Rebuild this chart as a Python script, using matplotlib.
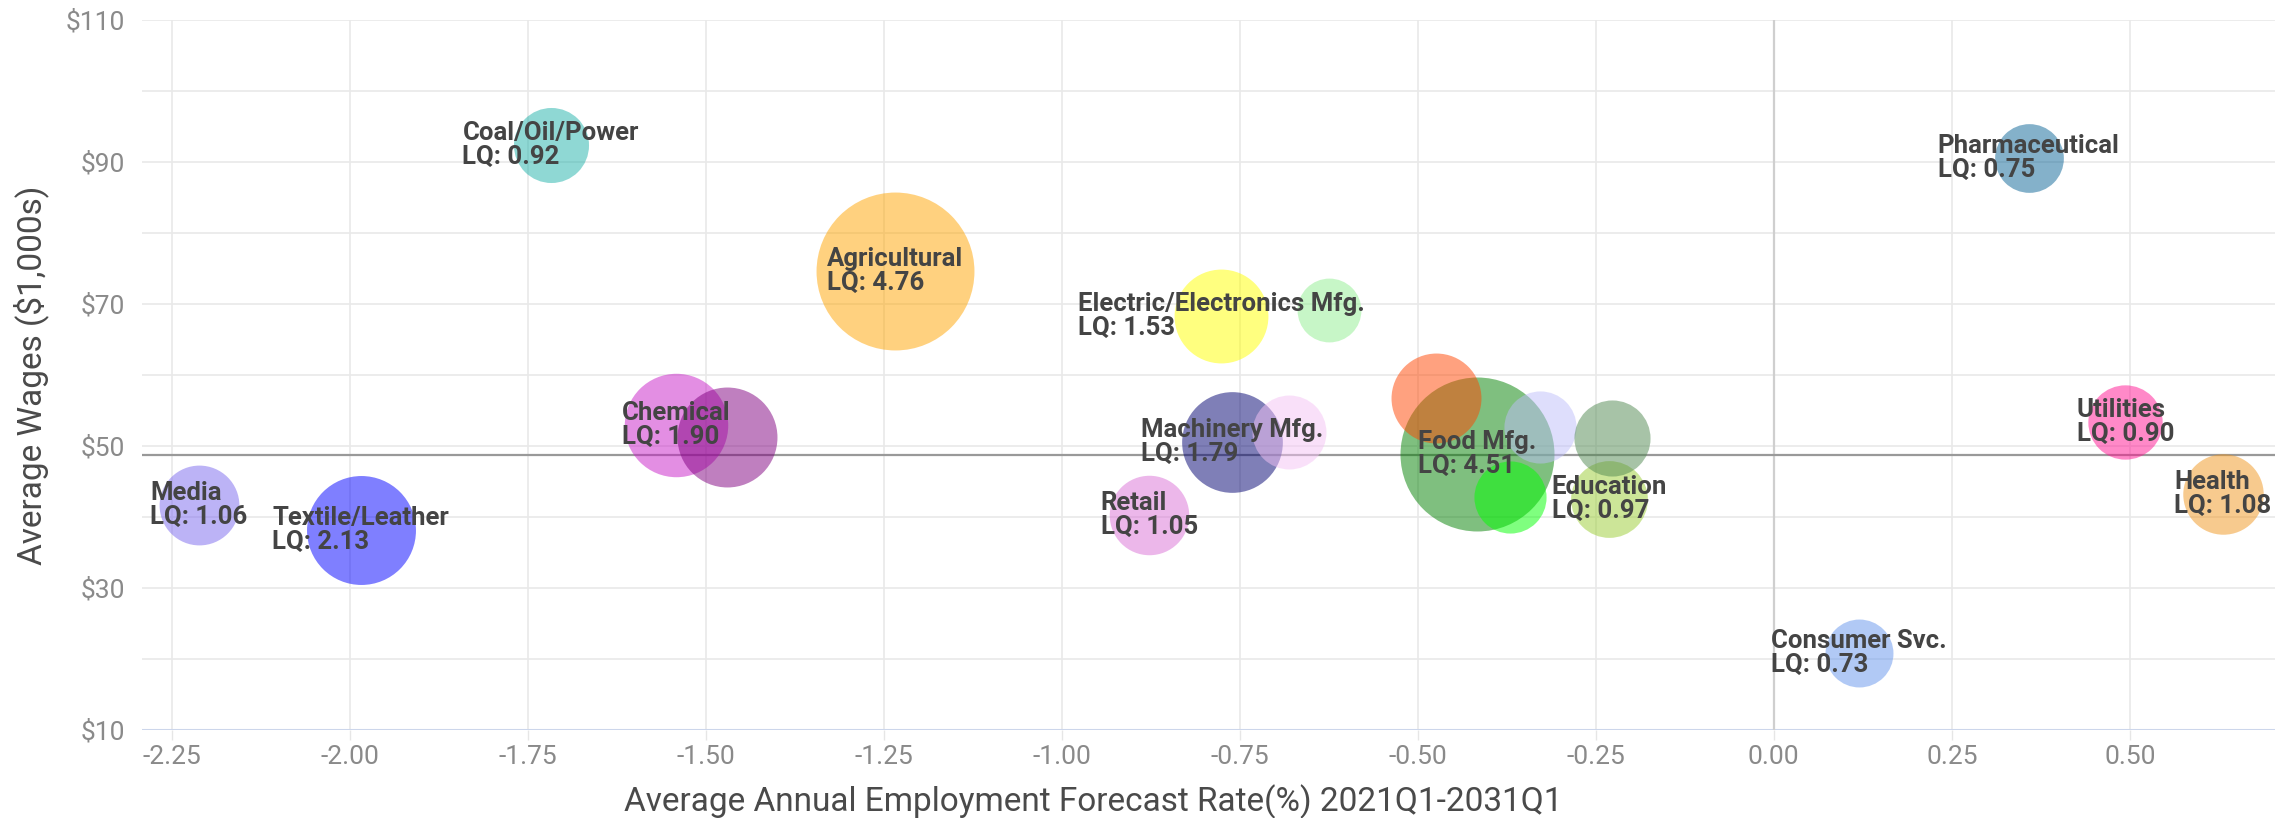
import matplotlib
matplotlib.use("Agg")
import matplotlib.pyplot as plt
import numpy as np
from matplotlib.ticker import MultipleLocator

plt.rcParams['font.family'] = ['Roboto', 'DejaVu Sans']

# ---- data ----
industries = ["Media", "Textile/Leather", "Coal/Oil/Power", "Agricultural", "Chemical",
              "Electric/Electronics Mfg.", "Machinery Mfg.", "Retail", "Food Mfg.",
              "Education", "Pharmaceutical", "Utilities", "Health", "Consumer Svc.",
              "", "", "", "", "", "", ""]
forecast_rate = [-2.212, -1.985, -1.718, -1.234, -1.542,
                 -0.776, -0.761, -0.877, -0.417,
                 -0.231, 0.358, 0.494, 0.631, 0.120,
                 -1.470, -0.625, -0.681, -0.474, -0.328, -0.370, -0.227]
avg_wages = [41.7, 38.2, 92.4, 74.6, 53.0,
             68.3, 50.5, 40.3, 48.9,
             42.6, 90.6, 53.4, 43.2, 20.8,
             51.2, 69.2, 52.0, 56.8, 52.7, 42.8, 51.1]
lq = [1.06, 2.13, 0.92, 4.76, 1.90,
      1.53, 1.79, 1.05, 4.51,
      0.97, 0.75, 0.90, 1.08, 0.73,
      1.76, 0.63, 0.89, 1.39, 0.84, 0.84, 0.95]
colors = ["#7B68EE", "#0000FF", "#20B2AA", "#FFA500", "#C81EC8",
          "#FFFF00", "#000070", "#DA70D6", "#008000",
          "#9ACD32", "#0A6496", "#FF1493", "#F0961E", "#6495ED",
          "#800080", "#90EE90", "#F5C3F5", "#FF4500", "#BEBEFA", "#00FF00", "#518951"]
mean_wage = 48.8

x_ticks = [-2.25, -2.00, -1.75, -1.50, -1.25, -1.00, -0.75, -0.50, -0.25, 0.00, 0.25, 0.50]
y_tick_labels = ["$10", "$30", "$50", "$70", "$90", "$110"]

# ---- figure ----
DPI = 100
fig = plt.figure(figsize=(22.92, 8.18), dpi=DPI)
ax = fig.add_axes([142/2292, 1 - 730/818, (2275-142)/2292, (730-20)/818])

ax.set_xlim(-2.292, 0.704)
ax.set_ylim(10, 110)

for s in ax.spines.values():
    s.set_visible(False)

ax.set_xticks(x_ticks)
ax.set_xticklabels([f"{t:.2f}" for t in x_ticks])
ax.set_yticks(np.arange(10, 111, 20))
ax.set_yticklabels(y_tick_labels)
ax.yaxis.set_minor_locator(MultipleLocator(10))

ax.grid(True, which='both', color='#e9e9e9', linewidth=1.2, zorder=0)
ax.set_axisbelow(True)
ax.tick_params(axis='x', length=7, width=1, color='#e6e6e6', labelsize=19,
               labelcolor='#8a8a8a', pad=4)
ax.tick_params(axis='y', which='both', length=0, labelsize=19, labelcolor='#8a8a8a', pad=12)

# baseline axis line
ax.axhline(10, color='#ccd6eb', linewidth=2.2, zorder=1)
# zero line
ax.axvline(0, color='#cfcfcf', linewidth=1.6, zorder=1)
# average wage line
ax.axhline(mean_wage, color='#999999', linewidth=1.6, zorder=1.5)

def radius_px(v):
    return 5 + 33.9 * np.sqrt(v)

for i, (x, y, q, c, name) in enumerate(zip(forecast_rate, avg_wages, lq, colors, industries)):
    d_pt = 2 * radius_px(q) * 72 / DPI
    ax.scatter([x], [y], s=d_pt ** 2, color=c, alpha=0.5, linewidths=0, zorder=2 + i)
    if name:
        ax.text(x, y, f"{name}\nLQ: {q:.2f}", ha='center', va='center', multialignment='left',
                fontsize=18.5, fontweight='bold', color='#444444', zorder=100,
                linespacing=1.0)

ax.set_xlabel("Average Annual Employment Forecast Rate(%) 2021Q1-2031Q1", fontsize=24,
              color='#4a4a4a', va='center')
ax.xaxis.set_label_coords(0.446, -0.101)
ax.set_ylabel("Average Wages ($1,000s)", fontsize=24, color='#4a4a4a', va='center')
ax.yaxis.set_label_coords(-0.052, 0.5)

fig.savefig("out.png", dpi=DPI, facecolor='white')
